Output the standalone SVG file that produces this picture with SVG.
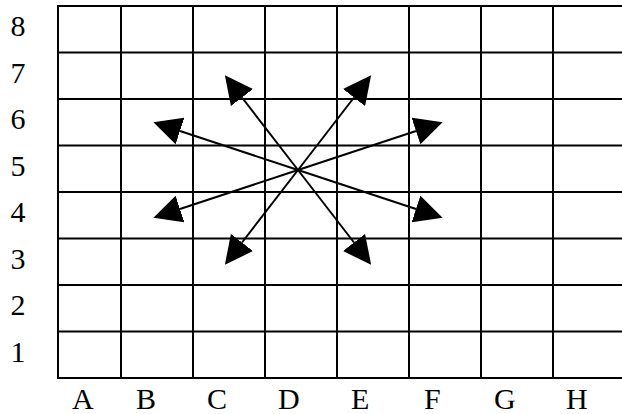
<svg xmlns="http://www.w3.org/2000/svg" width="622" height="414" viewBox="0 0 622 414">
<style>
.g{stroke:#000;stroke-width:2;fill:none}
.a{stroke:#000;stroke-width:2;fill:none;marker-end:url(#ah)}
.t{font-family:"Liberation Serif","Times New Roman",serif;font-size:30px;fill:#000}
</style>
<defs>
<marker id="ah" markerUnits="userSpaceOnUse" markerWidth="28" markerHeight="28" viewBox="0 0 27 27" refX="0" refY="13.5" orient="auto">
<path d="M0,0 L27,13.5 L0,27 z" fill="#000"/>
</marker>
</defs>
<rect width="622" height="414" fill="#fff"/>
<g id="grid" class="g">
<path d="M58,6H622M58,52.5H622M58,99H622M58,145.5H622M58,192H622M58,238.5H622M58,285H622M58,331.5H622M58,378H622"/>
<path d="M58,5V379M121,5V379M193,5V379M265,5V379M337,5V379M409,5V379M481,5V379M553,5V379"/>
</g>
<g id="row-labels" class="t" text-anchor="middle">
<text x="18" y="36">8</text>
<text x="18" y="82.5">7</text>
<text x="18" y="129">6</text>
<text x="18" y="175.5">5</text>
<text x="18" y="222">4</text>
<text x="18" y="268.5">3</text>
<text x="18" y="315">2</text>
<text x="18" y="361.5">1</text>
</g>
<g id="col-labels" class="t">
<text x="72" y="409">A</text>
<text x="136" y="409">B</text>
<text x="207" y="409">C</text>
<text x="278" y="409">D</text>
<text x="351" y="409">E</text>
<text x="424" y="409">F</text>
<text x="494" y="409">G</text>
<text x="566" y="409">H</text>
</g>
<g id="connectors">
<line class="a" x1="298" y1="170" x2="242" y2="97.5"/>
<line class="a" x1="298" y1="170" x2="354" y2="97.5"/>
<line class="a" x1="298" y1="170" x2="242" y2="242.5"/>
<line class="a" x1="298" y1="170" x2="354" y2="242.5"/>
<line class="a" x1="298" y1="170" x2="180" y2="131"/>
<line class="a" x1="298" y1="170" x2="416" y2="131"/>
<line class="a" x1="298" y1="170" x2="180" y2="209"/>
<line class="a" x1="298" y1="170" x2="416" y2="209"/>
</g>
</svg>
